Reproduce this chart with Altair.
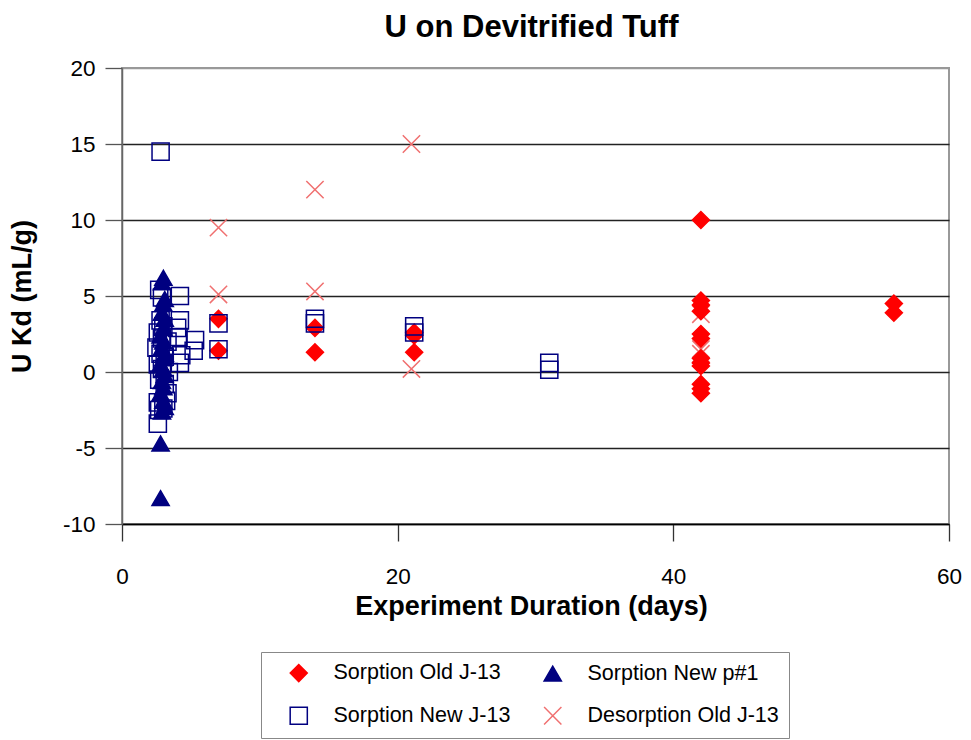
import altair as alt
import pandas as pd

# legend is laid out column-major: column 1 = first two, column 2 = last two
series_names = ["Sorption Old J-13", "Sorption New J-13", "Sorption New p#1", "Desorption Old J-13"]

# Sorption Old J-13 (red diamonds)
old_x = [7, 7, 14, 14, 21.2, 21.2, 21.2, 42, 42, 42, 42, 42, 42, 42, 42, 42, 42, 42, 42, 56, 56]
old_y = [3.5, 1.4, 2.9, 1.3, 2.6, 2.4, 1.3, 10.0, 4.7, 4.4, 4.0, 2.5, 2.2, 0.9, 0.6, 0.4, -0.8, -1.1, -1.4, 4.5, 3.9]

# Sorption New p#1 (navy triangles)
p1_x = [3.0, 2.9, 3.1, 3.0, 2.9, 3.1, 3.0, 2.8, 3.0, 2.9, 3.1, 3.0, 2.8, 3.0, 3.1, 2.9, 3.0, 2.8, 3.0, 3.1, 2.9, 2.8, 2.8]
p1_y = [6.2, 5.9, 4.8, 4.5, 3.9, 3.5, 2.9, 2.4, 2.0, 1.6, 1.2, 0.9, 0.5, 0.2, -0.2, -0.6, -1.0, -1.4, -1.9, -2.3, -2.6, -4.7, -8.3]

# Sorption New J-13 (open navy squares)
new_x = [2.8, 2.7, 2.9, 4.2, 2.8, 3.0, 4.2, 4.0, 2.6, 2.9, 3.3, 4.1, 5.3, 5.2, 2.5, 2.8, 3.1, 4.3, 4.2,
         2.6, 2.9, 3.4, 2.7, 3.1, 3.3, 2.6, 3.0, 3.2, 2.7, 2.6, 7.0, 7.0, 14.0, 14.0, 21.2, 21.2, 31.0, 31.0]
new_y = [14.5, 5.4, 4.9, 5.0, 3.4, 3.0, 3.4, 2.9, 2.6, 2.2, 2.0, 2.3, 2.1, 1.4, 1.6, 1.2, 1.0, 1.1, 0.6,
         0.5, 0.2, 0.0, -0.5, -0.8, -1.4, -2.0, -2.4, -1.9, -2.5, -3.4, 3.2, 1.5, 3.5, 3.2, 3.0, 2.6, 0.6, 0.15]

# Desorption Old J-13 (pink crosses)
des_x = [7, 7, 14, 14, 21, 21, 42, 42, 42]
des_y = [9.5, 5.1, 12.0, 5.3, 15.0, 0.2, 3.8, 1.5, 1.2]

x_ticks = [0, 20, 40, 60]
y_ticks = [-10, -5, 0, 5, 10, 15, 20]

rows = []
for xs, ys, name in [(des_x, des_y, "Desorption Old J-13"), (old_x, old_y, "Sorption Old J-13"),
                     (p1_x, p1_y, "Sorption New p#1"), (new_x, new_y, "Sorption New J-13")]:
    for a, b in zip(xs, ys):
        rows.append({"days": a, "kd": b, "series": name})
df = pd.DataFrame(rows)

FONT = "Liberation Sans"
# ranges follow series_names order
shapes = ["diamond", "square", "triangle-up", "M-1,-1L1,1M1,-1L-1,1"]
fills = ["#FF0000", "transparent", "#000080", "transparent"]
strokes = ["#FF0000", "#000080", "#000080", "#F07070"]
sizes = [290, 300, 330, 480]

chart = alt.Chart(df).mark_point(opacity=1, strokeWidth=1.5).encode(
    x=alt.X("days:Q",
            scale=alt.Scale(domain=[0, 60], nice=False, zero=False),
            axis=alt.Axis(values=x_ticks, title="Experiment Duration (days)", grid=False,
                          tickSize=17, labelPadding=24, labelFlush=False,
                          domainColor="#000", tickColor="#333",
                          titlePadding=6, titleX=409, titleAlign="center")),
    y=alt.Y("kd:Q",
            scale=alt.Scale(domain=[-10, 20], nice=False, zero=False),
            axis=alt.Axis(values=y_ticks, title="U Kd (mL/g)", grid=True,
                          labelExpr="'' + datum.value",
                          gridColor=alt.condition("datum.value === 20", alt.value("#999"), alt.value("#222")),
                          tickSize=17, labelPadding=10, labelFlush=False,
                          domainColor="#666", tickColor="#555",
                          titlePadding=26)),
    shape=alt.Shape("series:N", scale=alt.Scale(domain=series_names, range=shapes),
                    legend=alt.Legend(title=None)),
    fill=alt.Fill("series:N", scale=alt.Scale(domain=series_names, range=fills),
                  legend=alt.Legend(title=None)),
    stroke=alt.Stroke("series:N", scale=alt.Scale(domain=series_names, range=strokes),
                      legend=alt.Legend(title=None)),
    size=alt.Size("series:N", scale=alt.Scale(domain=series_names, range=sizes),
                  legend=alt.Legend(title=None)),
).properties(
    width=827,
    height=456,
    title=alt.TitleParams("U on Devitrified Tuff", fontSize=31, fontWeight="bold", font=FONT,
                          anchor="middle", offset=13, dx=-4, color="#000"),
    autosize=alt.AutoSizeParams(type="none"),
    padding={"left": 114, "top": 60, "right": 14, "bottom": 220},
).configure_view(
    stroke="#999", strokeWidth=2
).configure_axis(
    labelFont=FONT, labelFontSize=22.5, labelColor="#000",
    titleFont=FONT, titleFontSize=27, titleFontWeight="bold", titleColor="#000",
    domainWidth=1.5, gridWidth=1.3, tickWidth=1.3,
).configure_legend(
    orient="none", legendX=139, legendY=584, columns=2,
    padding=10, strokeColor="#888",
    labelFont=FONT, labelFontSize=21.5, labelColor="#000", labelLimit=400,
    symbolOffset=17, labelOffset=24, columnPadding=14, rowPadding=19,
    symbolStrokeWidth=1.5,
)

chart.save("out.html", embed_options={"renderer": "svg", "actions": False})
